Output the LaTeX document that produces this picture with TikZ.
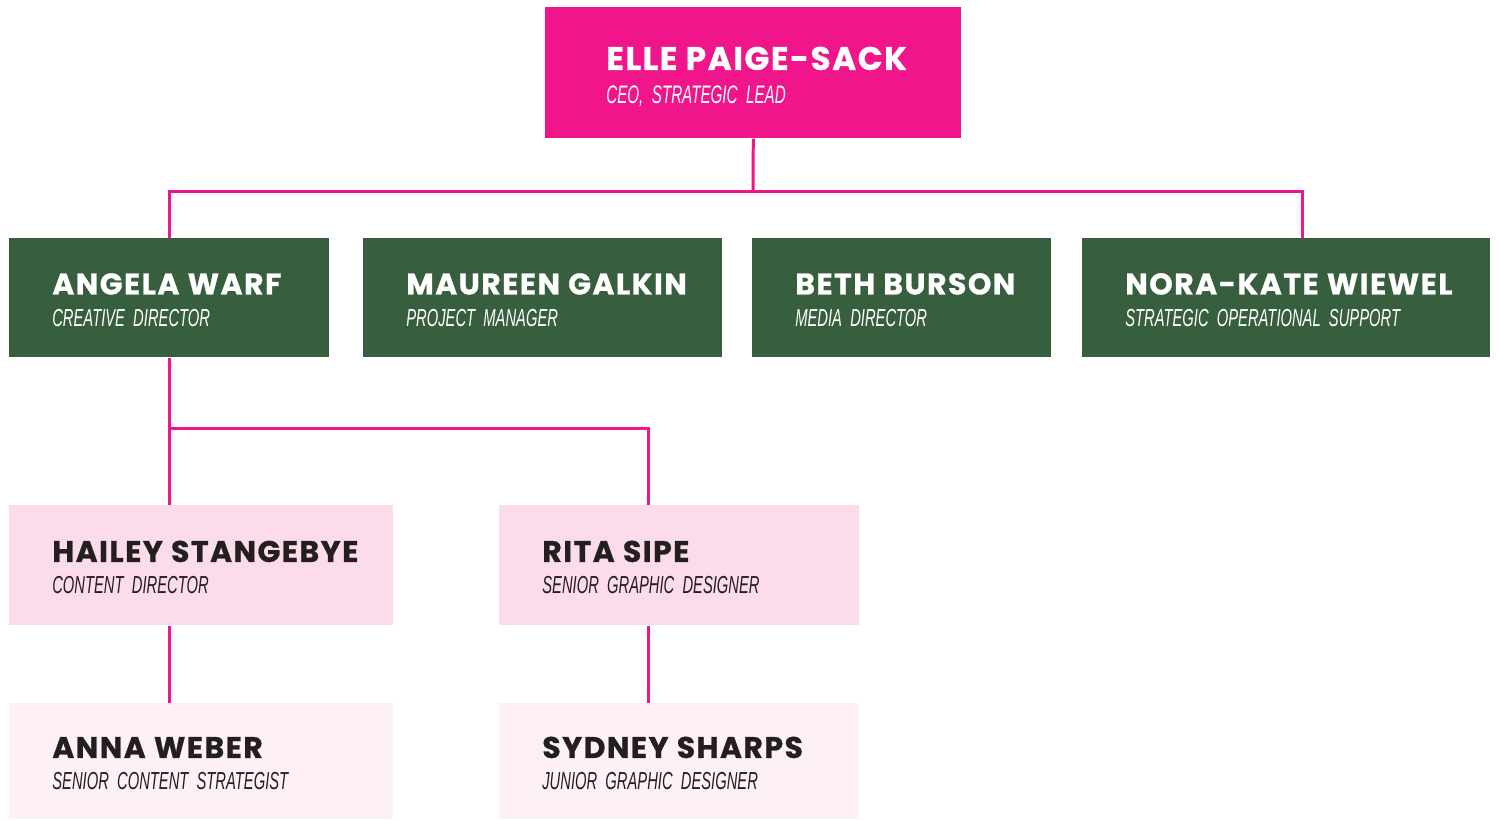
\documentclass[tikz,border=0pt]{standalone}
\usepackage{fontspec}
\setmainfont{Liberation Sans}
\newfontfamily\namefont{Poppins}[LetterSpace=5, BoldFeatures={FakeBold=0.8}]
\newfontfamily\rolefont{Liberation Sans}[FakeStretch=0.6, WordSpace=0.4]
\definecolor{magentalead}{HTML}{F0158A}
\definecolor{teamgreen}{HTML}{385F3D}
\definecolor{pinkmid}{HTML}{FCDBEB}
\definecolor{pinklight}{HTML}{FDF0F6}
\definecolor{inkdark}{HTML}{231F20}
\tikzset{
    person/.style={rectangle, anchor=north west, inner xsep=0pt, inner ysep=0pt,
        align=left, text width=#1, font=\fontsize{14}{18}\selectfont,
        execute at begin node={\leftskip=0.86cm}},
    lead/.style={person=#1, fill=magentalead, text=white, minimum height=2.62cm,
        font=\fontsize{14.4}{19}\selectfont, execute at begin node={\leftskip=1.22cm}},
    head/.style={person=#1, fill=teamgreen, text=white, minimum height=2.38cm},
    staff/.style={person=#1, fill=pinkmid, text=inkdark, minimum height=2.40cm},
    junior/.style={person=#1, fill=pinklight, text=inkdark, minimum height=2.32cm},
    link/.style={draw=magentalead, line width=1.7pt}
}
\newcommand{\who}[2]{{\namefont\bfseries\fontsize{17}{18}\selectfont\rule{0pt}{14.3pt}#1}\\%
    {\rolefont\itshape\fontsize{14}{18}\selectfont #2}}

\begin{document}
\begin{tikzpicture}[x=0.02cm, y=-0.02cm]
    \useasboundingbox (0,0) rectangle (1499,819);

    % Leitung
    \node[lead=8.32cm] (ceo) at (545,7)
        {{\namefont\bfseries\fontsize{18.5}{19}\selectfont\rule{0pt}{17.5pt}ELLE PAIGE-SACK}\\%
         {\rolefont\itshape\fontsize{14.4}{19}\selectfont CEO, STRATEGIC LEAD}};

    % Bereichsleitungen
    \node[head=6.40cm] (angela) at (9,238) {\who{ANGELA WARF}{CREATIVE DIRECTOR}};
    \node[head=7.18cm] (maureen) at (363,238) {\who{MAUREEN GALKIN}{PROJECT MANAGER}};
    \node[head=5.98cm] (beth) at (752,238) {\who{BETH BURSON}{MEDIA DIRECTOR}};
    \node[head=8.16cm] (nora) at (1082,238) {\who{NORA-KATE WIEWEL}{STRATEGIC OPERATIONAL SUPPORT}};

    % Team
    \node[staff=7.68cm] (hailey) at (9,505) {\who{HAILEY STANGEBYE}{CONTENT DIRECTOR}};
    \node[staff=7.20cm] (rita) at (499,505) {\who{RITA SIPE}{SENIOR GRAPHIC DESIGNER}};
    \node[junior=7.68cm] (anna) at (9,703) {\who{ANNA WEBER}{SENIOR CONTENT STRATEGIST}};
    \node[junior=7.20cm] (sydney) at (499,703) {\who{SYDNEY SHARPS}{JUNIOR GRAPHIC DESIGNER}};

    % Verbindungen
    \coordinate (bus) at (753,191);
    \coordinate (split) at (169,428);
    \draw[link] (ceo.south) -- (bus);
    \draw[link] (angela.north) |- (bus) -| ([xshift=0.32cm]nora.north);
    \draw[link] (angela.south) -- (hailey.north -| angela.south);
    \draw[link] (split) -| ([xshift=-0.62cm]rita.north);
    \draw[link] (hailey.south -| angela.south) -- (anna.north -| angela.south);
    \draw[link] ([xshift=-0.62cm]rita.south) -- ([xshift=-0.62cm]sydney.north);
\end{tikzpicture}
\end{document}
